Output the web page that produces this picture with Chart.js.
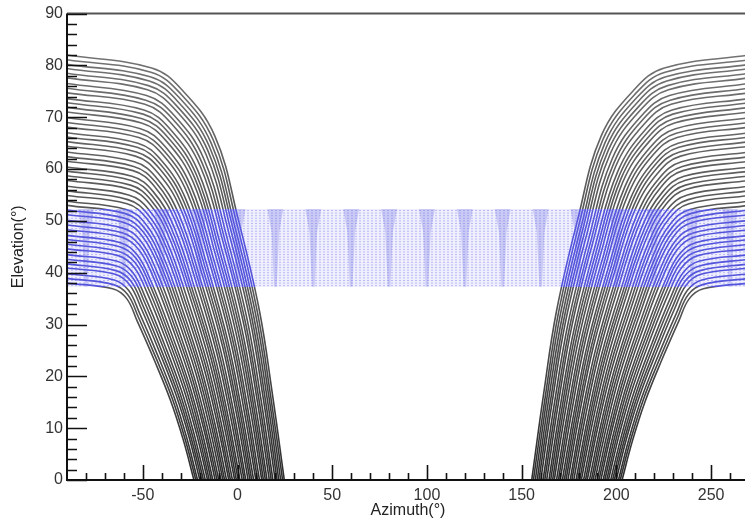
<!DOCTYPE html>
<html>
<head>
<meta charset="utf-8">
<title>Elevation vs Azimuth</title>
<script src="https://cdn.jsdelivr.net/npm/chart.js@4.4.1/dist/chart.umd.min.js"></script>
<style>
  html, body { margin: 0; padding: 0; background: #fff; overflow: hidden; }
  #wrap { width: 745px; height: 523px; overflow: hidden; }
</style>
</head>
<body>
<div id="wrap"><canvas id="skyChart" width="760" height="523"></canvas></div>
<script>
// Pass profiles: pairs of [azimuth offset from culmination, elevation]
const passProfiles = [
  [0, 38.0, 24.1, 36.9, 31.5, 35.0, 36.9, 30.8, 46.0, 23.2, 54.8, 15.2, 61.5, 7.6, 67.0, 0],
  [0, 38.9, 24.5, 37.7, 32.0, 35.8, 37.6, 31.5, 46.8, 23.7, 55.7, 15.6, 62.4, 7.8, 68.0, 0],
  [0, 39.8, 24.9, 38.6, 32.5, 36.6, 38.3, 32.2, 47.6, 24.3, 56.6, 15.9, 63.3, 8.0, 68.9, 0],
  [0, 40.9, 25.4, 39.7, 33.2, 37.6, 39.2, 33.1, 48.6, 24.9, 57.6, 16.4, 64.5, 8.2, 70.1, 0],
  [0, 41.7, 25.8, 40.4, 33.7, 38.4, 39.9, 33.8, 49.4, 25.4, 58.5, 16.7, 65.4, 8.3, 71.1, 0],
  [0, 42.6, 26.2, 41.3, 34.3, 39.2, 40.7, 34.5, 50.3, 26.0, 59.4, 17.0, 66.3, 8.5, 72.0, 0],
  [0, 43.5, 26.5, 42.2, 34.8, 40.0, 41.4, 35.2, 51.1, 26.5, 60.3, 17.4, 67.2, 8.7, 73.0, 0],
  [0, 44.6, 27.0, 43.3, 35.5, 41.0, 42.3, 36.1, 52.1, 27.2, 61.4, 17.8, 68.4, 8.9, 74.2, 0],
  [0, 45.5, 27.4, 44.1, 36.0, 41.9, 43.0, 36.9, 52.9, 27.8, 62.3, 18.2, 69.3, 9.1, 75.1, 0],
  [0, 46.4, 27.8, 45.0, 36.6, 42.7, 43.8, 37.6, 53.7, 28.3, 63.2, 18.6, 70.2, 9.3, 76.1, 0],
  [0, 47.2, 28.2, 45.8, 37.1, 43.4, 44.5, 38.2, 54.6, 28.8, 64.1, 18.9, 71.2, 9.4, 77.0, 0],
  [0, 48.3, 28.7, 46.9, 37.8, 44.5, 45.5, 39.2, 55.6, 29.5, 65.2, 19.3, 72.3, 9.7, 78.2, 0],
  [0, 49.2, 29.1, 47.7, 38.4, 45.3, 46.2, 39.9, 56.5, 30.0, 66.1, 19.7, 73.2, 9.8, 79.2, 0],
  [0, 50.1, 29.5, 48.6, 38.9, 46.1, 47.0, 40.6, 57.3, 30.6, 67.0, 20.0, 74.2, 10.0, 80.1, 0],
  [0, 51.2, 30.0, 49.7, 39.6, 47.1, 48.0, 41.5, 58.4, 31.2, 68.1, 20.5, 75.3, 10.2, 81.3, 0],
  [0, 52.1, 30.4, 50.5, 40.2, 47.9, 48.7, 42.2, 59.2, 31.8, 69.1, 20.8, 76.3, 10.4, 82.3, 0],
  [0, 53.0, 30.8, 51.4, 40.7, 48.7, 49.5, 42.9, 60.1, 32.3, 70.0, 21.2, 77.2, 10.6, 83.2, 0],
  [0, 53.8, 31.2, 52.2, 41.3, 49.5, 50.3, 43.6, 61.0, 32.8, 70.9, 21.5, 78.1, 10.8, 84.2, 0],
  [0, 54.9, 31.7, 53.3, 42.0, 50.5, 51.3, 44.5, 62.0, 33.5, 72.0, 22.0, 79.3, 11.0, 85.4, 0],
  [0, 55.8, 32.1, 54.1, 42.6, 51.3, 52.1, 45.2, 62.9, 34.0, 73.0, 22.3, 80.2, 11.2, 86.3, 0],
  [0, 56.7, 32.5, 55.0, 43.1, 52.2, 52.9, 45.9, 63.8, 34.6, 73.9, 22.7, 81.2, 11.3, 87.3, 0],
  [0, 57.8, 33.0, 56.1, 43.8, 53.2, 53.9, 46.8, 64.9, 35.3, 75.0, 23.1, 82.3, 11.6, 88.5, 0],
  [0, 58.7, 33.5, 56.9, 44.4, 54.0, 54.7, 47.5, 65.8, 35.8, 76.0, 23.5, 83.3, 11.7, 89.4, 0],
  [0, 59.6, 33.9, 57.8, 45.0, 54.8, 55.5, 48.2, 66.6, 36.3, 76.9, 23.8, 84.2, 11.9, 90.4, 0],
  [0, 60.4, 34.3, 58.6, 45.6, 55.6, 56.3, 49.0, 67.5, 36.9, 77.8, 24.2, 85.1, 12.1, 91.3, 0],
  [0, 61.5, 34.8, 59.7, 46.3, 56.6, 57.4, 49.8, 68.7, 37.5, 79.0, 24.6, 86.3, 12.3, 92.5, 0],
  [0, 62.4, 35.2, 60.5, 46.9, 57.4, 58.2, 50.5, 69.6, 38.1, 79.9, 25.0, 87.3, 12.5, 93.5, 0],
  [0, 63.3, 35.6, 61.4, 47.5, 58.2, 59.0, 51.3, 70.5, 38.6, 80.9, 25.3, 88.2, 12.7, 94.4, 0],
  [0, 64.4, 36.1, 62.5, 48.2, 59.2, 60.1, 52.2, 71.6, 39.3, 82.1, 25.8, 89.4, 12.9, 95.6, 0],
  [0, 65.3, 36.6, 63.3, 48.8, 60.1, 60.9, 52.9, 72.5, 39.8, 83.0, 26.1, 90.3, 13.1, 96.6, 0],
  [0, 66.2, 37.0, 64.2, 49.4, 60.9, 61.8, 53.6, 73.4, 40.4, 84.0, 26.5, 91.3, 13.2, 97.5, 0],
  [0, 67.0, 37.4, 65.0, 50.0, 61.6, 62.6, 54.3, 74.3, 40.9, 84.9, 26.8, 92.2, 13.4, 98.5, 0],
  [0, 68.1, 37.9, 66.1, 50.7, 62.7, 63.7, 55.2, 75.5, 41.6, 86.1, 27.3, 93.4, 13.6, 99.7, 0],
  [0, 69.0, 38.4, 66.9, 51.3, 63.5, 64.6, 55.9, 76.4, 42.1, 87.1, 27.6, 94.4, 13.8, 100.6, 0],
  [0, 69.9, 38.8, 67.8, 51.9, 64.3, 65.5, 56.6, 77.4, 42.6, 88.0, 28.0, 95.3, 14.0, 101.6, 0],
  [0, 71.0, 39.3, 68.9, 52.7, 65.3, 66.6, 57.5, 78.5, 43.3, 89.2, 28.4, 96.5, 14.2, 102.8, 0],
  [0, 71.9, 39.7, 69.7, 53.3, 66.1, 67.5, 58.2, 79.5, 43.8, 90.2, 28.8, 97.5, 14.4, 103.7, 0],
  [0, 72.8, 40.2, 70.6, 53.9, 66.9, 68.3, 58.9, 80.4, 44.4, 91.2, 29.1, 98.4, 14.6, 104.7, 0],
  [0, 73.6, 40.6, 71.4, 54.5, 67.7, 69.2, 59.6, 81.4, 44.9, 92.1, 29.5, 99.4, 14.7, 105.6, 0],
  [0, 74.7, 41.1, 72.5, 55.3, 68.7, 70.4, 60.5, 82.6, 45.6, 93.4, 29.9, 100.6, 14.9, 106.8, 0],
  [0, 75.6, 41.6, 73.3, 55.9, 69.6, 71.3, 61.2, 83.5, 46.1, 94.3, 30.2, 101.5, 15.1, 107.8, 0],
  [0, 76.5, 42.0, 74.2, 56.5, 70.4, 72.2, 62.0, 84.5, 46.7, 95.3, 30.6, 102.5, 15.3, 108.7, 0],
  [0, 77.6, 42.5, 75.3, 57.3, 71.4, 73.3, 62.9, 85.7, 47.3, 96.6, 31.0, 103.7, 15.5, 109.9, 0],
  [0, 78.5, 43.0, 76.1, 57.9, 72.2, 74.3, 63.6, 86.7, 47.9, 97.5, 31.4, 104.6, 15.7, 110.9, 0],
  [0, 79.4, 43.4, 77.0, 58.6, 73.0, 75.2, 64.3, 87.7, 48.4, 98.5, 31.7, 105.6, 15.9, 111.8, 0],
  [0, 80.2, 43.9, 77.8, 59.2, 73.8, 76.1, 65.0, 88.6, 48.9, 99.5, 32.1, 106.6, 16.0, 112.8, 0],
  [0, 81.1, 44.3, 78.7, 59.8, 74.6, 77.1, 65.7, 89.6, 49.5, 100.5, 32.4, 107.5, 16.2, 113.8, 0],
  [0, 82.0, 44.7, 79.5, 60.4, 75.4, 78.0, 66.4, 90.6, 50.0, 101.5, 32.8, 108.5, 16.4, 114.7, 0]
];

// Culmination azimuths of the two pass families (west side runs backwards)
const culminationAz = [-90, 270];
const culminationDir = [1, -1];

// Coverage band (elevation limits), its scan lines and the dense columns
const bandLow = 37.3;
const bandHigh = 52.3;
const bandLevels = [37.5, 38, 38.5, 39, 39.5, 40, 40.5, 41, 41.5, 42, 42.5, 43, 43.5, 44, 44.5,
                    45, 45.5, 46, 46.5, 47, 47.5, 48, 48.5, 49, 49.5, 50, 50.5, 51, 51.5, 52];
const columnAz = [-80, -60, -40, -20, 0, 20, 40, 60, 80, 100, 120, 140, 160, 180, 200, 220, 240, 260];

// Axis ticks
const xTickValues = [-50, 0, 50, 100, 150, 200, 250];
const yTickValues = [0, 10, 20, 30, 40, 50, 60, 70, 80, 90];

const X_MIN = -90, X_MAX = 270;
const COL_TOP_HALF = 4.2, COL_MID_HALF = 2.0, COL_BOTTOM_HALF = 0.7;
const FONT = '"Liberation Sans", Arial, sans-serif';
const PASS_HIGH = 'rgba(0,0,0,0.52)';
const PASS_MID = 'rgba(0,0,0,0.66)';
const PASS_LOW = 'rgba(0,0,0,0.82)';
const PASS_IN_BAND = 'rgba(30,30,205,0.82)';

function passPoints(row, c, dir) {
  const pts = [];
  for (let i = 0; i < row.length; i += 2) pts.push({ x: c + dir * row[i], y: row[i + 1] });
  return dir < 0 ? pts.reverse() : pts;
}

// vertical gradient: passes darken toward the horizon and turn blue inside the band
let passGradient = null;
function passStroke(context) {
  const { chart } = context;
  const area = chart.chartArea;
  if (!area) return PASS_MID;
  if (passGradient) return passGradient;
  const y = chart.scales.y;
  const span = area.bottom - area.top;
  const f1 = (y.getPixelForValue(bandHigh) - area.top) / span;
  const f2 = (y.getPixelForValue(bandLow) - area.top) / span;
  const g = chart.ctx.createLinearGradient(0, area.top, 0, area.bottom);
  g.addColorStop(0, PASS_HIGH);
  g.addColorStop(f1, PASS_MID);
  g.addColorStop(f1, PASS_IN_BAND);
  g.addColorStop(f2, PASS_IN_BAND);
  g.addColorStop(f2, PASS_MID);
  g.addColorStop(1, PASS_LOW);
  passGradient = g;
  return g;
}

function buildDatasets() {
  const sets = [];

  columnAz.forEach(az => {
    const mid = bandHigh - (bandHigh - bandLow) * 0.3;
    sets.push({
      data: [
        { x: az - COL_TOP_HALF, y: bandHigh }, { x: az + COL_TOP_HALF, y: bandHigh },
        { x: az + COL_MID_HALF, y: mid }, { x: az + COL_BOTTOM_HALF, y: bandLow },
        { x: az - COL_BOTTOM_HALF, y: bandLow }, { x: az - COL_MID_HALF, y: mid },
        { x: az - COL_TOP_HALF, y: bandHigh }
      ],
      borderWidth: 0, pointRadius: 0, tension: 0,
      fill: 'shape', backgroundColor: 'rgba(95,95,225,0.26)'
    });
  });

  bandLevels.forEach(lv => {
    sets.push({
      data: [{ x: X_MIN, y: lv }, { x: X_MAX, y: lv }],
      borderColor: 'rgba(105,105,230,0.4)', borderWidth: 1, borderDash: [2, 2],
      pointRadius: 0, fill: false
    });
  });

  sets.push({
    data: [{ x: X_MIN, y: bandHigh }, { x: X_MAX, y: bandHigh }],
    borderWidth: 0, pointRadius: 0,
    fill: { value: bandLow }, backgroundColor: 'rgba(150,150,240,0.15)'
  });

  culminationAz.forEach((c, k) => {
    passProfiles.forEach(row => {
      sets.push({
        data: passPoints(row, c, culminationDir[k]),
        borderColor: passStroke, borderWidth: 1.6,
        pointRadius: 0, fill: false, tension: 0.4
      });
    });
  });
  return sets;
}

// frame and inward ticks
const frameTicks = {
  id: 'frameTicks',
  afterDraw(chart) {
    const { ctx, chartArea: a, scales: { x, y } } = chart;
    ctx.save();
    ctx.lineCap = 'butt';
    ctx.strokeStyle = '#555';
    ctx.lineWidth = 2;
    ctx.beginPath();
    ctx.moveTo(a.left, a.top); ctx.lineTo(a.right, a.top);
    ctx.stroke();

    ctx.strokeStyle = '#111';
    ctx.beginPath();
    ctx.moveTo(a.left, a.top); ctx.lineTo(a.left, a.bottom); ctx.lineTo(a.right, a.bottom);
    ctx.stroke();

    ctx.lineWidth = 1.6;
    ctx.beginPath();
    for (let v = 0; v <= 90; v += 2) {
      const py = Math.round(y.getPixelForValue(v)) + 0.5;
      const len = v % 10 === 0 ? 20 : 10;
      ctx.moveTo(a.left, py); ctx.lineTo(a.left + len, py);
    }
    for (let v = -80; v <= 260; v += 10) {
      const px = Math.round(x.getPixelForValue(v)) + 0.5;
      const len = v % 50 === 0 ? 15 : 7;
      ctx.moveTo(px, a.bottom); ctx.lineTo(px, a.bottom - len);
    }
    ctx.stroke();
    ctx.restore();
  }
};

new Chart(document.getElementById('skyChart'), {
  type: 'line',
  data: { datasets: buildDatasets() },
  options: {
    responsive: false,
    animation: false,
    events: [],
    layout: { padding: { top: 11, right: 11, left: 0, bottom: 0 } },
    plugins: { legend: { display: false }, tooltip: { enabled: false } },
    scales: {
      x: {
        type: 'linear', min: X_MIN, max: X_MAX,
        grid: { display: false, drawTicks: false },
        border: { display: false },
        afterBuildTicks: axis => { axis.ticks = xTickValues.map(v => ({ value: v })); },
        afterFit: axis => { axis.height = 43; },
        ticks: { autoSkip: false, maxRotation: 0, padding: 6, color: '#333', font: { family: FONT, size: 16 } },
        title: { display: true, text: 'Azimuth(°)', color: '#222', padding: { top: 0, bottom: 3 }, font: { family: FONT, size: 16 } }
      },
      y: {
        type: 'linear', min: 0, max: 90,
        grid: { display: false, drawTicks: false },
        border: { display: false },
        afterBuildTicks: axis => { axis.ticks = yTickValues.map(v => ({ value: v })); },
        afterFit: axis => { axis.width = 67; },
        ticks: { autoSkip: false, padding: 4, color: '#333', font: { family: FONT, size: 16 } },
        title: { display: true, text: 'Elevation(°)', color: '#222', padding: { top: 9, bottom: 0 }, font: { family: FONT, size: 16 } }
      }
    }
  },
  plugins: [frameTicks]
});
</script>
</body>
</html>
